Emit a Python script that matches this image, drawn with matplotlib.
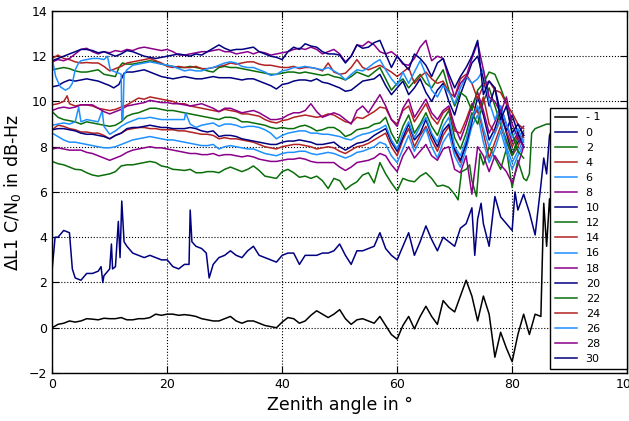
import numpy as np
import matplotlib
matplotlib.use("Agg")
from matplotlib import pyplot as plt

# --- curves (zenith angle in deg, delta C/N0 in dB-Hz) ---
pts_m1 = [(0, 0.0), (1, 0.15), (2, 0.2), (3, 0.3), (4, 0.25), (5, 0.3), (6, 0.4), (7, 0.38), (8, 0.35),
          (9, 0.42), (10, 0.4), (11, 0.4), (12, 0.45), (13, 0.35), (14, 0.35), (15, 0.4), (16, 0.4),
          (17, 0.45), (18, 0.6), (19, 0.55), (20, 0.6), (21, 0.6), (22, 0.55), (23, 0.58), (24, 0.55),
          (25, 0.5), (26, 0.4), (27, 0.35), (28, 0.3), (29, 0.3), (30, 0.4), (31, 0.5), (32, 0.3),
          (33, 0.2), (34, 0.3), (35, 0.3), (36, 0.2), (37, 0.1), (38, 0.05), (39, 0.0), (40, 0.25),
          (41, 0.45), (42, 0.4), (43, 0.2), (44, 0.3), (45, 0.55), (46, 0.75), (47, 0.6), (48, 0.45),
          (49, 0.6), (50, 0.8), (51, 0.4), (52, 0.15), (53, 0.35), (54, 0.4), (55, 0.3), (56, 0.2),
          (57, 0.5), (58, 0.1), (59, -0.3), (60, -0.5), (61, 0.1), (62, 0.5), (63, -0.05), (64, 0.5),
          (65, 0.95), (66, 0.5), (67, 0.15), (68, 1.2), (69, 0.9), (70, 0.7), (71, 1.4), (72, 2.1),
          (73, 1.4), (74, 0.3), (75, 1.4), (76, 0.6), (77, -1.3), (78, -0.2), (79, -0.9), (80, -1.5),
          (81, -0.3), (82, 0.6), (83, -0.3), (84, 0.6), (85, 0.5), (85.5, 5.5), (86, 3.6), (86.5, 5.7),
          (87, 4.0), (87.5, 8.5)]

pts_0 = [(0, 2.6), (0.5, 4.0), (1, 4.0), (2, 4.3), (3, 4.2), (3.5, 2.6), (4, 2.2), (5, 2.1), (6, 2.4),
         (7, 2.4), (8, 2.5), (8.5, 2.7), (8.8, 2.0), (9, 2.3), (10, 2.6), (10.3, 3.7), (10.5, 2.6),
         (11, 2.7), (11.5, 4.7), (11.8, 3.1), (12.1, 5.6), (12.5, 3.8), (13, 3.6), (14, 3.3), (15, 3.2),
         (16, 3.1), (17, 3.2), (18, 3.1), (19, 3.0), (20, 3.0), (21, 2.7), (22, 2.6), (23, 2.8),
         (23.8, 2.8), (24, 5.2), (24.3, 3.8), (25, 3.6), (26, 3.5), (26.8, 3.3), (27.3, 2.2), (28, 2.8),
         (29, 3.1), (30, 3.2), (31, 3.4), (32, 3.2), (33, 3.1), (34, 3.4), (35, 3.6), (36, 3.2),
         (37, 3.1), (38, 3.0), (39, 2.9), (40, 3.2), (41, 3.3), (42, 3.3), (43, 2.8), (44, 3.2),
         (45, 3.2), (46, 3.2), (47, 3.3), (48, 3.3), (49, 3.4), (50, 3.7), (51, 3.2), (52, 2.8),
         (53, 3.4), (54, 3.4), (55, 3.5), (56, 3.6), (57, 4.2), (58, 3.5), (59, 3.2), (60, 3.0),
         (61, 3.6), (62, 4.2), (63, 3.2), (64, 3.8), (65, 4.5), (66, 3.9), (67, 3.4), (68, 4.0),
         (69, 3.8), (70, 3.6), (71, 4.4), (72, 4.6), (73, 5.3), (73.5, 3.2), (74, 4.8), (74.6, 5.5),
         (75, 4.6), (76, 3.6), (77, 5.8), (78, 4.9), (79, 4.6), (80, 4.3), (80.5, 6.0), (81, 5.2),
         (82, 5.9), (83, 5.1), (84, 4.1), (85, 6.3), (85.5, 7.5), (86, 6.8), (86.5, 8.5), (87, 8.8)]

pts_2 = [(0, 7.35), (1, 7.25), (2, 7.2), (3, 7.1), (4, 7.0), (5, 6.98), (6, 6.85), (7, 6.75), (8, 6.7),
         (9, 6.75), (10, 6.8), (11, 6.9), (12, 7.15), (13, 7.2), (14, 7.2), (15, 7.25), (16, 7.3),
         (17, 7.35), (18, 7.3), (19, 7.15), (20, 7.1), (21, 7.0), (22, 6.98), (23, 6.95), (24, 7.0),
         (25, 6.85), (26, 6.85), (27, 6.9), (28, 6.9), (29, 6.85), (30, 7.0), (31, 7.1), (32, 7.0),
         (33, 6.9), (34, 7.0), (35, 7.15), (36, 6.95), (37, 6.7), (38, 6.65), (39, 6.6), (40, 6.9),
         (41, 7.0), (42, 6.85), (43, 6.65), (44, 6.7), (45, 6.6), (46, 6.7), (47, 6.5), (48, 6.15),
         (49, 6.6), (50, 6.5), (51, 6.1), (52, 6.3), (53, 6.45), (54, 6.75), (55, 6.85), (56, 6.4),
         (57, 7.3), (58, 6.8), (59, 6.4), (60, 6.05), (61, 6.6), (62, 6.5), (63, 6.45), (64, 6.7),
         (65, 6.85), (66, 6.6), (67, 6.25), (68, 6.3), (69, 6.2), (70, 5.9), (70.6, 5.65), (71.2, 6.9),
         (72, 7.0), (72.6, 7.2), (73, 6.5), (73.8, 5.8), (74.4, 7.7), (75, 7.2), (76, 8.0), (77, 7.5),
         (78, 7.0), (79, 7.9), (80, 6.2), (81, 7.4), (82, 6.6), (82.5, 6.5), (83, 6.8), (83.4, 8.6),
         (84, 8.8), (85, 8.9), (86, 9.0), (87, 9.0), (88, 9.0)]

y_4 = [8.75, 8.95, 8.9, 8.8, 8.75, 8.65, 8.65, 8.6, 8.6, 8.5, 8.35, 8.5, 8.6, 8.75, 8.8, 8.85, 8.85,
       8.8, 8.8, 8.75, 8.75, 8.75, 8.7, 8.7, 8.65, 8.6, 8.55, 8.55, 8.5, 8.35, 8.4, 8.35, 8.35, 8.3,
       8.25, 8.2, 8.1, 8.0, 7.95, 7.9, 8.0, 8.05, 8.1, 8.1, 8.05, 8.0, 7.9, 7.95, 8.0, 7.95, 7.8, 7.7,
       7.85, 8.0, 8.05, 8.15, 8.3, 8.45, 8.6, 8.0, 7.6, 8.3, 8.8, 8.0, 8.5, 8.9, 8.3, 7.8, 8.5, 8.9,
       7.8, 7.3, 8.2, 9.2, 9.7, 8.6, 7.5, 8.2, 8.9, 8.2, 7.6, 8.0, 8.6]

y_6 = [8.6, 8.45, 8.3, 8.2, 8.2, 8.15, 8.1, 8.05, 8.0, 7.95, 7.95, 8.0, 8.1, 8.2, 8.3, 8.35, 8.4,
       8.45, 8.4, 8.35, 8.3, 8.3, 8.25, 8.2, 8.15, 8.1, 8.05, 8.05, 8.1, 7.9, 8.0, 8.05, 8.0, 7.95,
       7.9, 7.9, 7.8, 7.7, 7.65, 7.6, 7.7, 7.75, 7.75, 7.8, 7.8, 7.7, 7.65, 7.7, 7.75, 7.7, 7.6, 7.5,
       7.6, 7.75, 7.8, 7.9, 8.0, 8.2, 8.1, 7.6, 7.3, 7.9, 8.5, 7.8, 8.3, 8.8, 8.0, 7.5, 8.2, 8.6, 7.6,
       7.1, 7.9, 8.9, 9.4, 8.2, 7.3, 7.9, 8.7, 7.8, 7.0, 7.6, 8.1]

y_8 = [7.9, 7.95, 7.9, 7.85, 7.85, 7.85, 7.75, 7.7, 7.6, 7.5, 7.4, 7.5, 7.6, 7.75, 7.85, 7.9, 7.95,
       8.0, 7.95, 7.95, 7.9, 7.85, 7.8, 7.75, 7.7, 7.7, 7.65, 7.65, 7.7, 7.6, 7.65, 7.65, 7.6, 7.55,
       7.6, 7.55, 7.45, 7.4, 7.35, 7.35, 7.4, 7.45, 7.45, 7.5, 7.45, 7.35, 7.3, 7.3, 7.3, 7.3, 7.1,
       6.95, 7.1, 7.3, 7.35, 7.4, 7.5, 7.7, 7.6, 7.2, 6.9, 7.6, 8.0, 7.5, 7.8, 8.1, 7.6, 7.4, 7.9,
       8.0, 7.0, 6.85, 7.6, 5.9, 8.0, 7.6, 6.9, 7.6, 7.2, 6.9, 6.4, 7.2, 8.0]

y_10 = [8.75, 8.8, 8.8, 8.75, 8.7, 8.6, 8.55, 8.55, 8.5, 8.45, 8.35, 8.5, 8.6, 8.8, 8.85, 8.85, 8.9,
        8.95, 8.9, 8.85, 8.85, 8.8, 8.8, 8.8, 8.85, 8.8, 8.7, 8.65, 8.7, 8.45, 8.5, 8.5, 8.45, 8.35,
        8.3, 8.25, 8.2, 8.15, 8.1, 8.1, 8.2, 8.25, 8.25, 8.3, 8.25, 8.2, 8.1, 8.1, 8.15, 8.2, 8.0,
        7.85, 8.0, 8.15, 8.2, 8.3, 8.5, 8.65, 8.8, 8.2, 7.8, 8.4, 9.0, 8.3, 8.6, 9.2, 8.5, 8.0, 8.7,
        9.0, 7.9, 7.4, 8.1, 9.1, 10.2, 9.4, 8.3, 8.8, 9.6, 8.6, 7.7, 8.2, 8.5]

y_12 = [9.55, 9.3, 9.2, 9.15, 9.1, 9.0, 9.1, 9.05, 9.0, 8.95, 8.9, 8.95, 9.1, 9.35, 9.45, 9.5, 9.6,
        9.7, 9.7, 9.65, 9.6, 9.6, 9.55, 9.5, 9.45, 9.4, 9.35, 9.3, 9.25, 9.2, 9.3, 9.3, 9.25, 9.1,
        9.1, 9.05, 9.0, 8.95, 8.85, 8.8, 8.85, 8.8, 8.8, 8.9, 8.95, 8.85, 8.7, 8.75, 8.85, 8.85, 8.7,
        8.45, 8.55, 8.75, 8.8, 8.85, 9.0, 9.05, 9.3, 8.6, 8.15, 8.9, 9.4, 8.6, 9.0, 9.5, 8.9, 8.5,
        9.2, 9.6, 8.4, 7.9, 8.6, 9.5, 9.0, 10.0, 10.6, 9.8, 9.0, 8.3, 7.6, 8.4, 8.7]

pts_14 = [(0, 9.85), (1, 9.9), (2, 10.0), (2.6, 10.25), (3, 9.9), (4, 9.8), (5, 9.85), (6, 9.85),
          (7, 9.8), (8, 9.7), (9, 9.65), (10, 9.6), (11, 9.65), (12, 9.75), (13, 9.85), (14, 10.0),
          (15, 10.15), (16, 10.1), (17, 10.2), (18, 10.15), (19, 10.1), (20, 10.05), (21, 10.0),
          (22, 9.9), (23, 9.9), (24, 9.8), (25, 9.75), (26, 9.7), (27, 9.65), (28, 9.6), (29, 9.55),
          (30, 9.65), (31, 9.6), (32, 9.55), (33, 9.45), (34, 9.45), (35, 9.4), (36, 9.35), (37, 9.2),
          (38, 9.1), (39, 9.05), (40, 9.15), (41, 9.2), (42, 9.3), (43, 9.35), (44, 9.4), (45, 9.35),
          (46, 9.3), (47, 9.35), (48, 9.45), (49, 9.4), (50, 9.25), (51, 9.1), (52, 9.05), (53, 9.3),
          (54, 9.25), (55, 9.4), (56, 9.55), (57, 9.75), (58, 9.7), (59, 9.2), (60, 9.0), (61, 9.6),
          (62, 9.8), (63, 9.1), (64, 9.5), (65, 9.9), (66, 9.3), (67, 9.0), (68, 9.5), (69, 9.7),
          (70, 8.7), (71, 8.6), (72, 9.2), (73, 9.9), (74, 9.5), (75, 10.2), (76, 9.0), (77, 8.6),
          (78, 9.3), (79, 8.7), (80, 8.0), (81, 8.5), (82, 8.4)]

pts_16 = [(0, 8.95), (1, 9.0), (2, 9.05), (3, 9.0), (4, 9.1), (4.6, 9.75), (5, 9.1), (6, 9.2),
          (7, 9.15), (8, 9.1), (8.7, 9.6), (9, 8.9), (10, 8.55), (11, 8.7), (12, 8.9), (13, 9.05),
          (14, 9.15), (15, 9.25), (16, 9.25), (17, 9.3), (18, 9.25), (19, 9.2), (20, 9.2), (21, 9.2),
          (22, 9.2), (23, 9.2), (23.2, 9.5), (24, 9.0), (25, 8.85), (26, 8.95), (27, 9.0), (28, 9.05),
          (29, 8.9), (30, 9.0), (31, 9.0), (32, 8.95), (33, 8.85), (34, 8.9), (35, 8.9), (36, 8.85),
          (37, 8.75), (38, 8.6), (39, 8.35), (40, 8.5), (41, 8.6), (42, 8.65), (43, 8.7), (44, 8.7),
          (45, 8.6), (46, 8.6), (47, 8.55), (48, 8.55), (49, 8.5), (50, 8.45), (51, 8.35), (52, 8.3),
          (53, 8.45), (54, 8.55), (55, 8.6), (56, 8.7), (57, 8.8), (58, 8.95), (59, 8.3), (60, 7.9),
          (61, 8.6), (62, 9.1), (63, 8.4), (64, 8.9), (65, 9.3), (66, 8.6), (67, 8.2), (68, 8.9),
          (69, 9.3), (70, 8.0), (71, 7.6), (72, 8.3), (73, 9.3), (74, 9.8), (75, 8.8), (76, 8.0),
          (77, 8.6), (78, 9.2), (79, 8.0), (80, 7.3), (81, 7.8), (82, 8.3)]

y_18 = [9.6, 9.7, 9.75, 9.7, 9.75, 9.85, 9.85, 9.85, 9.7, 9.55, 9.45, 9.55, 9.65, 9.8, 9.85, 9.9,
        9.95, 10.05, 10.0, 9.95, 9.95, 9.9, 9.9, 9.85, 9.8, 9.85, 9.9, 9.8, 9.7, 9.55, 9.7, 9.7, 9.6,
        9.5, 9.55, 9.6, 9.5, 9.35, 9.2, 9.2, 9.25, 9.4, 9.5, 9.5, 9.6, 9.9, 9.55, 9.3, 9.4, 9.5, 9.4,
        9.2, 9.0, 9.6, 9.8, 9.5, 9.9, 10.3, 9.8, 9.2, 8.9, 9.7, 10.1, 9.3, 9.7, 10.1, 9.5, 9.2, 9.6,
        9.8, 8.9, 8.3, 9.0, 9.8, 10.4, 9.6, 8.6, 9.1, 9.8, 9.0, 8.2, 8.6, 8.9]

pts_20 = [(0, 10.65), (1, 10.7), (2, 10.85), (3, 10.95), (4, 10.9), (5, 10.95), (6, 11.0), (7, 10.95),
          (8, 10.9), (9, 10.8), (10, 10.7), (10.7, 10.6), (11.6, 10.75), (12.5, 11.25), (13, 11.3),
          (14, 11.3), (15, 11.35), (16, 11.4), (17, 11.3), (18, 11.2), (19, 11.1), (20, 11.05),
          (21, 11.0), (22, 11.05), (23, 11.1), (24, 11.05), (25, 11.0), (26, 11.0), (27, 11.05),
          (28, 11.1), (29, 11.05), (30, 11.05), (31, 11.05), (32, 11.0), (33, 10.95), (34, 11.0),
          (35, 11.0), (36, 10.9), (37, 10.8), (38, 10.7), (39, 10.55), (40, 10.75), (41, 10.8),
          (42, 10.9), (43, 10.95), (44, 10.95), (45, 10.9), (46, 11.0), (47, 10.85), (48, 10.8),
          (49, 10.7), (50, 10.6), (51, 10.45), (52, 10.5), (53, 10.7), (54, 10.9), (55, 10.95),
          (56, 11.0), (57, 11.2), (58, 10.7), (59, 10.3), (60, 10.6), (61, 10.9), (62, 10.3),
          (63, 10.6), (64, 11.0), (65, 10.4), (66, 10.0), (67, 10.5), (68, 10.8), (69, 10.0),
          (70, 9.4), (71, 10.3), (72, 11.0), (73, 11.7), (74, 12.0), (75, 11.0), (76, 9.8),
          (77, 10.6), (78, 9.5), (79, 8.7), (80, 9.4), (81, 8.6), (82, 8.0)]

pts_22 = [(0, 11.4), (1, 11.45), (2, 11.5), (3, 11.45), (4, 11.35), (5, 11.3), (6, 11.3), (7, 11.35),
          (8, 11.4), (9, 11.2), (10, 11.15), (11, 11.1), (11.6, 11.5), (12.2, 11.7), (13, 11.65),
          (14, 11.65), (15, 11.7), (16, 11.75), (17, 11.8), (18, 11.75), (19, 11.65), (20, 11.6),
          (21, 11.55), (22, 11.5), (23, 11.5), (24, 11.55), (25, 11.5), (26, 11.45), (27, 11.35),
          (28, 11.3), (29, 11.5), (30, 11.55), (31, 11.5), (32, 11.5), (33, 11.45), (34, 11.4),
          (35, 11.35), (36, 11.3), (37, 11.25), (38, 11.2), (39, 11.2), (40, 11.25), (41, 11.3),
          (42, 11.3), (43, 11.25), (44, 11.3), (45, 11.25), (46, 11.2), (47, 11.15), (48, 11.2),
          (49, 11.1), (50, 11.05), (51, 10.95), (52, 11.1), (53, 11.3), (54, 11.2), (55, 11.1),
          (56, 11.3), (57, 11.5), (58, 11.0), (59, 10.5), (60, 10.8), (61, 11.0), (62, 10.6),
          (63, 10.9), (64, 11.2), (65, 10.8), (66, 10.6), (67, 11.0), (68, 11.4), (69, 10.5),
          (70, 9.8), (71, 10.4), (72, 10.2), (73, 9.6), (74, 10.5), (75, 10.8), (76, 11.3),
          (77, 11.2), (78, 10.6), (79, 9.9), (80, 8.6), (81, 7.8), (82, 7.5)]

y_24 = [11.9, 12.05, 11.9, 11.85, 11.75, 11.7, 11.72, 11.7, 11.7, 11.55, 11.35, 11.45, 11.55, 11.7,
        11.75, 11.8, 11.85, 11.9, 11.8, 11.7, 11.55, 11.5, 11.55, 11.5, 11.5, 11.55, 11.45, 11.45,
        11.5, 11.55, 11.6, 11.7, 11.65, 11.7, 11.75, 11.75, 11.65, 11.6, 11.6, 11.55, 11.5, 11.5,
        11.55, 11.45, 11.5, 11.5, 11.45, 11.35, 11.7, 11.3, 11.2, 11.25, 11.5, 11.85, 11.5, 11.4,
        11.5, 11.6, 11.45, 11.3, 11.1, 11.3, 11.5, 10.8, 11.1, 11.3, 11.0, 10.8, 10.9, 10.4, 10.2,
        11.0, 11.2, 10.8, 10.1, 10.7, 10.9, 10.5, 10.4, 9.9, 9.5, 9.0, 8.8]

pts_26 = [(0, 11.9), (0.6, 11.1), (1.4, 10.65), (2.3, 10.5), (3, 10.6), (3.5, 10.8), (4, 11.4),
          (4.6, 11.7), (5, 11.8), (6, 11.85), (7, 11.9), (8, 11.9), (9, 11.85), (9.6, 12.0),
          (10.1, 11.4), (11, 11.3), (11.6, 11.25), (12, 11.2), (12.1, 9.2), (12.3, 9.2), (12.5, 11.2),
          (13, 11.4), (14, 11.6), (15, 11.65), (16, 11.7), (17, 11.75), (18, 11.7), (19, 11.65),
          (20, 11.6), (21, 11.55), (22, 11.45), (23, 11.35), (24, 11.4), (25, 11.35), (26, 11.35),
          (27, 11.45), (28, 11.5), (29, 11.6), (30, 11.7), (31, 11.75), (32, 11.7), (33, 11.55),
          (34, 11.5), (35, 11.5), (36, 11.4), (37, 11.3), (38, 11.15), (39, 11.2), (40, 11.35),
          (41, 11.4), (42, 11.5), (43, 11.5), (44, 11.55), (45, 11.5), (46, 11.45), (47, 11.4),
          (48, 11.5), (49, 11.35), (50, 11.2), (51, 10.95), (52, 11.2), (53, 11.4), (54, 11.35),
          (55, 11.5), (56, 11.7), (57, 11.85), (58, 11.4), (59, 11.0), (60, 10.7), (61, 11.3),
          (62, 10.8), (63, 11.3), (64, 11.8), (65, 11.2), (66, 10.5), (67, 10.2), (68, 10.7),
          (69, 10.4), (70, 9.9), (71, 10.6), (72, 11.1), (73, 10.8), (74, 11.0), (75, 11.4),
          (76, 10.0), (77, 9.2), (78, 9.8), (79, 9.0), (80, 8.4), (81, 8.8), (82, 8.2)]

y_28 = [11.75, 11.85, 11.8, 11.9, 12.1, 12.3, 12.35, 12.2, 12.1, 12.2, 12.15, 12.25, 12.2, 12.3,
        12.25, 12.35, 12.4, 12.35, 12.3, 12.25, 12.3, 12.2, 12.05, 12.05, 12.1, 12.15, 12.2, 12.2,
        12.25, 12.3, 12.2, 12.2, 12.1, 12.15, 12.2, 12.1, 12.2, 12.15, 12.05, 12.1, 12.15, 12.2,
        12.3, 12.35, 12.3, 12.4, 12.3, 12.1, 12.2, 12.3, 12.1, 11.75, 12.0, 12.5, 12.45, 12.65, 12.5,
        12.2, 12.1, 12.2, 12.0, 11.65, 11.6, 11.9, 12.4, 12.7, 11.8, 12.0, 11.9, 11.0, 10.2, 10.8,
        11.1, 11.9, 12.6, 11.4, 10.2, 10.0, 9.5, 10.2, 9.0, 8.4, 8.0]

y_30 = [11.8, 11.9, 12.0, 12.1, 12.2, 12.3, 12.3, 12.25, 12.15, 12.2, 12.1, 12.0, 12.1, 12.25, 12.2,
        12.1, 12.0, 11.95, 11.9, 11.95, 12.0, 12.05, 12.1, 12.05, 12.0, 12.1, 12.05, 12.2, 12.35,
        12.5, 12.35, 12.25, 12.3, 12.3, 12.35, 12.4, 12.2, 12.1, 12.0, 11.95, 11.85, 12.2, 12.4, 12.3,
        12.55, 12.45, 12.4, 12.2, 12.1, 12.1, 12.05, 11.7, 12.0, 12.5, 12.35, 12.4, 12.6, 12.7, 12.1,
        11.5, 12.0, 11.7, 11.4, 12.1, 11.9, 11.6, 11.1, 11.7, 11.9, 11.2, 10.6, 11.1, 11.5, 12.0,
        12.7, 10.3, 10.9, 10.6, 9.2, 9.8, 8.6, 9.0, 8.5]

labels = ["- 1", "0", "2", "4", "6", "8", "10", "12", "14", "16", "18", "20", "22", "24", "26", "28", "30"]
series = [pts_m1, pts_0, pts_2, y_4, y_6, y_8, y_10, y_12, pts_14, pts_16, y_18, pts_20, pts_22,
          y_24, pts_26, y_28, y_30]

cycle = ["#000080", "#0a6e0a", "#b22222", "#1e90ff", "#8b008b"]

fig = plt.figure(figsize=(6.29, 4.21), dpi=100)
ax = fig.add_axes([0.083, 0.114, 0.914, 0.860])

for i, (lab, s) in enumerate(zip(labels, series)):
    if isinstance(s[0], tuple):
        xs = [p[0] for p in s]
        ys = [p[1] for p in s]
    else:
        ys = s
        xs = np.arange(len(s))
    c = "black" if i == 0 else cycle[(i - 1) % 5]
    ax.plot(xs, ys, color=c, lw=1.1, label=lab)

ax.set_xlim(0, 100)
ax.set_ylim(-2, 14)
ax.set_xticks(range(0, 101, 20))
ax.set_yticks(range(-2, 15, 2))
ax.grid(True, color="black", linestyle=":", linewidth=0.8)
ax.tick_params(direction="in", top=True, right=True, labelsize=9, length=5)
for sp in ax.spines.values():
    sp.set_linewidth(1.0)

ax.set_xlabel("Zenith angle in °", size=12.5)
ax.set_ylabel(r"$\Delta$L1 C/N$_0$ in dB-Hz", size=12.5)

# legend stretched to the box width seen in the reference
leg = ax.legend(loc="lower left", bbox_to_anchor=(0.866, 0.012, 0.134, 0.72), mode="expand",
                fontsize=8, labelspacing=0.46, fancybox=False, framealpha=1,
                edgecolor="black", borderaxespad=0.0, handletextpad=0.8)
leg.get_frame().set_linewidth(1.0)

fig.savefig("out.png", dpi=100)
